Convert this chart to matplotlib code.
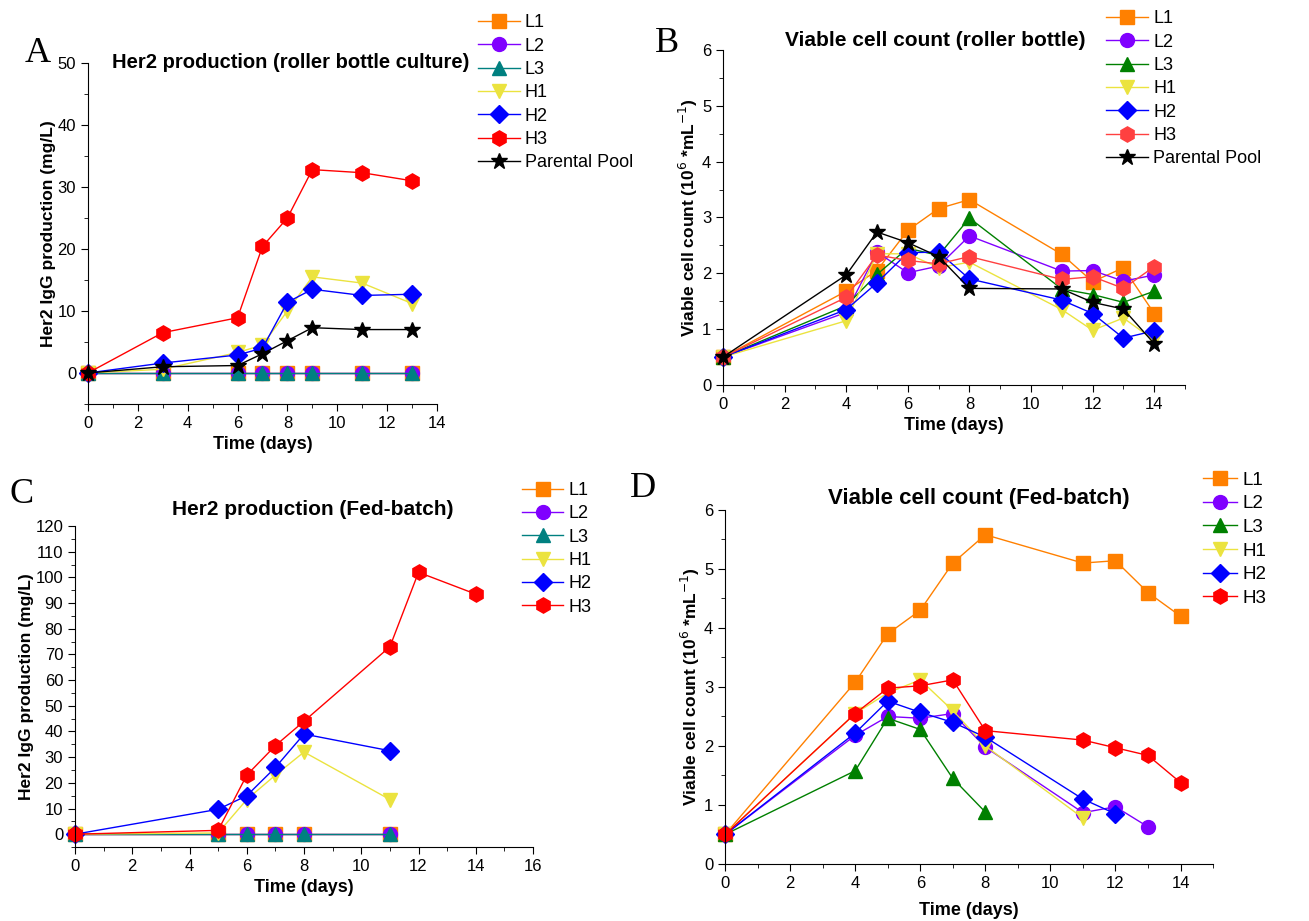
import numpy as np
import matplotlib
matplotlib.use("Agg")
import matplotlib.pyplot as plt
from matplotlib.ticker import MultipleLocator

plt.rcParams["font.family"] = ["Liberation Sans", "DejaVu Sans"]

# ---- Panel A: Her2 production, roller bottle ----
a_days = [0, 3, 6, 7, 8, 9, 11, 13]
a_L1 = [0, 0, 0, 0, 0, 0, 0, 0]
a_L2 = [0, 0, 0, 0, 0, 0, 0, 0]
a_L3 = [0, 0, 0, 0, 0, 0, 0, 0]
a_H1 = [0, 0.6, 3.3, 4.5, 10.0, 15.5, 14.5, 11.2]
a_H2 = [0, 1.6, 2.9, 4.0, 11.4, 13.5, 12.5, 12.7]
a_H3 = [0, 6.5, 8.9, 20.4, 25.0, 32.8, 32.3, 31.0]
a_PP = [0, 1.0, 1.2, 3.1, 5.2, 7.3, 7.0, 7.0]

# ---- Panel B: viable cell count, roller bottle ----
b_days = [0, 4, 5, 6, 7, 8, 11, 12, 13, 14]
b_L1 = [0.5, 1.68, 2.05, 2.77, 3.16, 3.32, 2.34, 1.85, 2.10, 1.28]
b_L2 = [0.5, 1.30, 2.38, 2.01, 2.13, 2.67, 2.04, 2.05, 1.86, 1.97]
b_L3 = [0.5, 1.42, 1.98, 2.45, 2.32, 2.99, 1.72, 1.62, 1.48, 1.68]
b_H1 = [0.5, 1.15, 2.35, 2.35, 2.10, 2.20, 1.35, 0.98, 1.20, 0.80]
b_H2 = [0.5, 1.35, 1.83, 2.37, 2.38, 1.90, 1.52, 1.28, 0.84, 0.97]
b_H3 = [0.5, 1.57, 2.33, 2.23, 2.17, 2.30, 1.89, 1.94, 1.73, 2.12]
b_PP = [0.5, 1.97, 2.74, 2.55, 2.30, 1.73, 1.72, 1.48, 1.36, 0.74]

# ---- Panel C: Her2 production, fed-batch ----
c_days_L = [0, 5, 6, 7, 8, 11]
c_L1 = [0, 0, 0, 0, 0, 0]
c_L2 = [0, 0, 0, 0, 0, 0]
c_L3 = [0, 0, 0, 0, 0, 0]
c_H1 = [0, 0.5, 13.5, 23.0, 32.0, 13.5]
c_H2 = [0, 9.7, 15.0, 26.0, 39.0, 32.5]
c_days_H3 = [0, 5, 6, 7, 8, 11, 12, 14]
c_H3 = [0, 1.5, 23.0, 34.5, 44.0, 73.0, 102.0, 93.5]

# ---- Panel D: viable cell count, fed-batch ----
d_days_L1 = [0, 4, 5, 6, 7, 8, 11, 12, 13, 14]
d_L1 = [0.5, 3.08, 3.90, 4.30, 5.10, 5.58, 5.10, 5.14, 4.60, 4.20]
d_days_L2 = [0, 4, 5, 6, 7, 8, 11, 12, 13]
d_L2 = [0.5, 2.18, 2.50, 2.47, 2.55, 1.98, 0.87, 0.97, 0.63]
d_days_L3 = [0, 4, 5, 6, 7, 8]
d_L3 = [0.5, 1.58, 2.47, 2.28, 1.45, 0.88]
d_days_H1 = [0, 4, 5, 6, 7, 8, 11]
d_H1 = [0.5, 2.55, 2.90, 3.12, 2.60, 2.00, 0.78]
d_days_H2 = [0, 4, 5, 6, 7, 8, 11, 12]
d_H2 = [0.5, 2.22, 2.76, 2.57, 2.40, 2.15, 1.10, 0.85]
d_days_H3 = [0, 4, 5, 6, 7, 8, 11, 12, 13, 14]
d_H3 = [0.5, 2.55, 2.98, 3.02, 3.12, 2.26, 2.10, 1.97, 1.84, 1.38]

ORANGE = "#ff8000"
PURPLE = "#8000ff"
TEAL = "#008080"
GREEN = "#008000"
YELLOW = "#ebe33f"
BLUE = "#0000ff"
RED = "#ff0000"
LRED = "#ff4040"

NARROW = ["Liberation Sans Narrow", "Liberation Sans", "DejaVu Sans"]


def _series(ax, x, y, color, marker, label, ms=10):
    ax.plot(x, y, color=color, marker=marker, markersize=ms, lw=1,
            markeredgecolor=color, label=label, clip_on=False)


def _style(ax, xlim, ylim, ymajor, yminor, ylabel, xpad=4):
    ax.set_xlim(*xlim)
    ax.set_ylim(*ylim)
    ax.xaxis.set_major_locator(MultipleLocator(2))
    ax.xaxis.set_minor_locator(MultipleLocator(1))
    ax.yaxis.set_major_locator(MultipleLocator(ymajor))
    ax.yaxis.set_minor_locator(MultipleLocator(yminor))
    for s in ["top", "right"]:
        ax.spines[s].set_visible(False)
    ax.tick_params(which="major", direction="out", length=5, labelsize=12)
    ax.tick_params(which="minor", direction="out", length=3)
    for lab in ax.get_xticklabels() + ax.get_yticklabels():
        lab.set_family(NARROW)
    ax.set_xlabel("Time (days)", fontsize=13, fontweight="bold",
                  family=NARROW, labelpad=xpad)
    ax.set_ylabel(ylabel, fontsize=12.5, fontweight="bold", labelpad=1)


def _legend(ax, anchor, fs=13, hl=2.3):
    ax.legend(loc="upper left", bbox_to_anchor=anchor, frameon=False,
              fontsize=fs, handlelength=hl, handletextpad=0.3,
              labelspacing=0.35, borderaxespad=0)


fig = plt.figure(figsize=(13.09, 9.21), dpi=100)

# Panel A
ax = fig.add_axes([0.0672, 0.5614, 0.2666, 0.3702])
_series(ax, a_days, a_L1, ORANGE, "s", "L1")
_series(ax, a_days, a_L2, PURPLE, "o", "L2")
_series(ax, a_days, a_L3, TEAL, "^", "L3")
_series(ax, a_days, a_H1, YELLOW, "v", "H1")
_series(ax, a_days, a_H2, BLUE, "D", "H2", ms=9)
_series(ax, a_days, a_H3, RED, "h", "H3", ms=11)
_series(ax, a_days, a_PP, "black", "*", "Parental Pool", ms=12)
_style(ax, (0, 14), (-5, 50), 10, 5, "Her2 IgG production (mg/L)")
ax.set_title("Her2 production (roller bottle culture)", fontsize=14.5,
             fontweight="bold", family=NARROW, x=0.58, y=0.985, pad=0)
_legend(ax, (1.097, 1.164))
fig.text(0.019, 0.933, "A", fontsize=26, family="Liberation Serif")

# Panel B
ax = fig.add_axes([0.5523, 0.582, 0.353, 0.3637])
_series(ax, b_days, b_L1, ORANGE, "s", "L1")
_series(ax, b_days, b_L2, PURPLE, "o", "L2")
_series(ax, b_days, b_L3, GREEN, "^", "L3")
_series(ax, b_days, b_H1, YELLOW, "v", "H1")
_series(ax, b_days, b_H2, BLUE, "D", "H2", ms=9)
_series(ax, b_days, b_H3, LRED, "h", "H3", ms=11)
_series(ax, b_days, b_PP, "black", "*", "Parental Pool", ms=12)
_style(ax, (0, 15), (0, 6), 1, 0.5, "Viable cell count (10$^{6}$ *mL$^{-1}$)")
ax.set_title("Viable cell count (roller bottle)", fontsize=15,
             fontweight="bold", family=NARROW, x=0.46, pad=2)
_legend(ax, (0.814, 1.14))
fig.text(0.500, 0.9435, "B", fontsize=26, family="Liberation Serif")

# Panel C
ax = fig.add_axes([0.0573, 0.0803, 0.3499, 0.3485])
_series(ax, c_days_L, c_L1, ORANGE, "s", "L1")
_series(ax, c_days_L, c_L2, PURPLE, "o", "L2")
_series(ax, c_days_L, c_L3, TEAL, "^", "L3")
_series(ax, c_days_L, c_H1, YELLOW, "v", "H1")
_series(ax, c_days_L, c_H2, BLUE, "D", "H2", ms=9)
_series(ax, c_days_H3, c_H3, RED, "h", "H3", ms=11)
_style(ax, (0, 16), (-5, 120), 10, 5, "Her2 IgG production (mg/L)")
ax.set_title("Her2 production (Fed-batch)", fontsize=15,
             fontweight="bold", family=NARROW, x=0.52, pad=8)
_legend(ax, (0.96, 1.16))
fig.text(0.007, 0.454, "C", fontsize=26, family="Liberation Serif")

# Panel D
ax = fig.add_axes([0.5539, 0.0619, 0.3728, 0.3844])
_series(ax, d_days_L1, d_L1, ORANGE, "s", "L1")
_series(ax, d_days_L2, d_L2, PURPLE, "o", "L2")
_series(ax, d_days_L3, d_L3, GREEN, "^", "L3")
_series(ax, d_days_H1, d_H1, YELLOW, "v", "H1")
_series(ax, d_days_H2, d_H2, BLUE, "D", "H2", ms=9)
_series(ax, d_days_H3, d_H3, RED, "h", "H3", ms=11)
_style(ax, (0, 15), (0, 6), 1, 0.5, "Viable cell count (10$^{6}$ *mL$^{-1}$)",
       xpad=8)
ax.set_title("Viable cell count (Fed-batch)", fontsize=16,
             fontweight="bold", family=NARROW, x=0.52, pad=4)
_legend(ax, (0.964, 1.13), fs=13.5, hl=1.8)
fig.text(0.481, 0.4604, "D", fontsize=26, family="Liberation Serif")

fig.savefig("out.png", dpi=100)
